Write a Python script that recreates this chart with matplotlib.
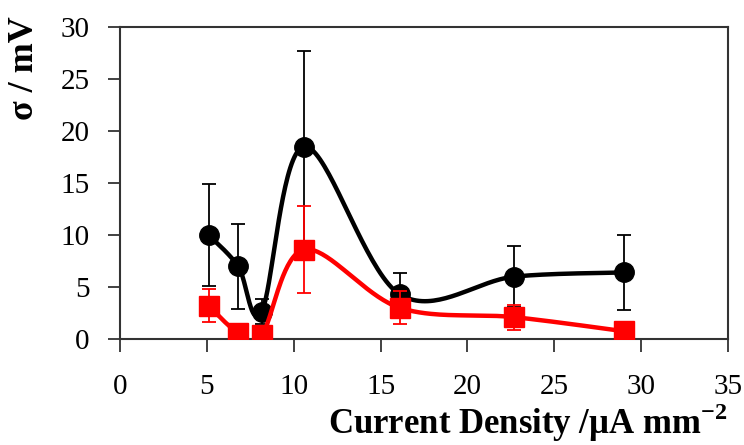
import numpy as np
import matplotlib
matplotlib.use("Agg")
import matplotlib.pyplot as plt

# values
current = [5.1, 6.8, 8.15, 10.6, 16.1, 22.7, 29.0]
sigma_black = [10.0, 7.0, 2.6, 18.5, 4.3, 6.0, 6.4]
err_black = [4.9, 4.1, 1.2, 9.2, 2.0, 2.9, 3.6]
sigma_red = [3.2, 0.6, 0.35, 8.6, 3.0, 2.1, 0.75]
err_red = [1.6, 0.0, 0.0, 4.2, 1.6, 1.2, 0.0]

x_ticks = [0, 5, 10, 15, 20, 25, 30, 35]
y_ticks = [0, 5, 10, 15, 20, 25, 30]


def smooth(xs, ys, sx=1.67, n=40):
    # Excel-style smoothed line (Catmull-Rom through the points)
    p = np.column_stack([np.asarray(xs) * sx, ys])
    p = np.vstack([p[0], p, p[-1]])
    out = []
    for i in range(1, len(p) - 2):
        p0, p1, p2, p3 = p[i - 1], p[i], p[i + 1], p[i + 2]
        c1 = p1 + (p2 - p0) / 6
        c2 = p2 - (p3 - p1) / 6
        t = np.linspace(0, 1, n)[:, None]
        seg = ((1 - t) ** 3) * p1 + 3 * ((1 - t) ** 2) * t * c1 \
            + 3 * (1 - t) * t ** 2 * c2 + t ** 3 * p2
        out.append(seg)
    out = np.vstack(out)
    return out[:, 0] / sx, out[:, 1]


plt.rcParams["font.family"] = ["Liberation Serif", "DejaVu Serif"]
plt.rcParams["mathtext.fontset"] = "custom"
plt.rcParams["mathtext.rm"] = "Liberation Serif"
plt.rcParams["mathtext.bf"] = "Liberation Serif:bold"
plt.rcParams["axes.unicode_minus"] = False

fig = plt.figure(figsize=(7.44, 4.45), dpi=100)
ax = fig.add_axes([0.1613, 0.2382, 0.8172, 0.7011])

bx, by = smooth(current, sigma_black)
ax.plot(bx, by, color="black", lw=3.2, zorder=2)
ax.errorbar(current, sigma_black, yerr=err_black, fmt="none", ecolor="black",
            elinewidth=1.3, capsize=5, capthick=1.3, zorder=3)
ax.plot(current, sigma_black, "o", color="black", ms=14, zorder=4)

rx, ry = smooth(current, sigma_red)
ax.plot(rx, ry, color="#ff0000", lw=3.2, zorder=5)
ax.errorbar(current, sigma_red, yerr=err_red, fmt="none", ecolor="#ff0000",
            elinewidth=1.3, capsize=5, capthick=1.3, zorder=6)
ax.plot(current, sigma_red, "s", color="#ff0000", ms=15, zorder=7)

ax.set_xlim(0, 35)
ax.set_ylim(0, 30)
ax.set_xticks(x_ticks)
ax.set_yticks(y_ticks)
ax.tick_params(direction="out", length=9, width=1.3, color="#333333",
               labelsize=21)
ax.tick_params(axis="x", pad=16)
ax.tick_params(axis="y", pad=13)
for s in ax.spines.values():
    s.set_linewidth(1.5)
    s.set_color("#333333")

fig.text(0.978, 0.003, "Current Density /\u03bcA mm$^{\\mathbf{-2}}$",
         ha="right", va="bottom", fontsize=25, fontweight="bold")
fig.text(0.033, 0.847, "\u03c3 / mV", rotation=90, ha="center", va="center",
         fontsize=26, fontweight="bold")

fig.savefig("out.png", dpi=100)
